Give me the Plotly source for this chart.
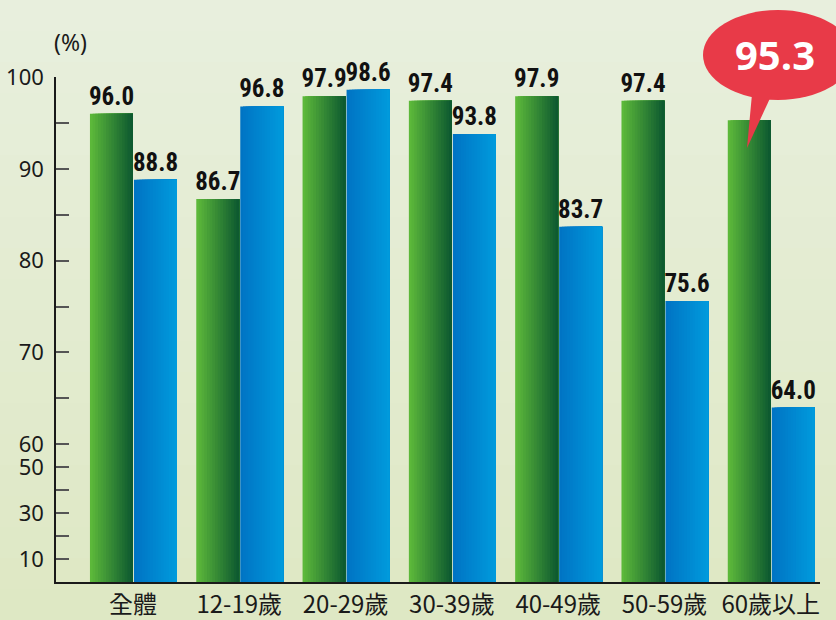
import plotly.graph_objects as go

# ---------------- data ----------------
categories = ["全體", "12-19歲", "20-29歲", "30-39歲", "40-49歲", "50-59歲", "60歲以上"]
green_values = [96.0, 86.7, 97.9, 97.4, 97.9, 97.4, 95.3]
blue_values = [88.8, 96.8, 98.6, 93.8, 83.7, 75.6, 64.0]
green_labels = ["96.0", "86.7", "97.9", "97.4", "97.9", "97.4", ""]
blue_labels = ["88.8", "96.8", "98.6", "93.8", "83.7", "75.6", "64.0"]
major_ticks = [10, 30, 50, 60, 70, 80, 90, 100]
minor_ticks = [20, 40, 65, 75, 85, 95]
callout_text = "95.3"


# broken axis: 0-60 compressed to a quarter, 60-100 at full scale
def to_axis(v):
    return v / 4.0 if v <= 60 else 15.0 + (v - 60.0)


green_y = [to_axis(v) for v in green_values]
blue_y = [to_axis(v) for v in blue_values]

# ---------------- style ----------------
BG = "#e3ebd2"
BG_TOP, BG_BOTTOM = (0xE8, 0xEF, 0xDD), (0xDE, 0xE8, 0xC4)
BAR_W = 0.4045
N_SLICES = 16
GREEN_L, GREEN_R = (0x5C, 0xB8, 0x3A), (0x0E, 0x5A, 0x30)
BLUE_L, BLUE_R = (0x00, 0x74, 0xC4), (0x00, 0x9A, 0xDC)
LABEL_FONT = dict(family="Noto Sans Condensed, Roboto Condensed, Liberation Sans Narrow, Liberation Sans, sans-serif",
                  size=25, color="#111", weight="bold")


def mix(a, b, f):
    return "rgb(%d,%d,%d)" % tuple(round(a[k] + (b[k] - a[k]) * f) for k in range(3))


fig = go.Figure()

series = [
    (green_y, green_values, green_labels, -BAR_W, GREEN_L, GREEN_R),
    (blue_y, blue_values, blue_labels, 0.0094, BLUE_L, BLUE_R),
]

for ys, vals, labels, off0, cl, cr in series:
    # horizontal gradient emulated by stacked slices (each drawn from its start to the bar's right edge)
    for i in range(N_SLICES):
        f = i / (N_SLICES - 1)
        step = BAR_W / N_SLICES
        fig.add_trace(go.Bar(
            x=categories, y=ys, offset=off0 + i * step, width=BAR_W - i * step,
            marker=dict(color=mix(cl, cr, f), line=dict(width=0)),
            hoverinfo="skip", showlegend=False,
        ))
    # labels
    fig.add_trace(go.Bar(
        x=categories, y=ys, offset=off0, width=BAR_W,
        marker=dict(color="rgba(0,0,0,0)", line=dict(width=0)),
        text=labels, textposition="outside", textfont=LABEL_FONT,
        constraintext="none", cliponaxis=False,
        customdata=vals, hovertemplate="%{x}: %{customdata}<extra></extra>",
        showlegend=False,
    ))

# plot area: x 56..820, y 77..582
PL, PR, PT, PB = 56, 820, 77, 582
PW, PH = PR - PL, PB - PT


def px(x):
    return (x - PL) / PW


def py(y):
    return (PB - y) / PH


# soft vertical background gradient (decoration)
shapes = []
N_BANDS = 20
for i in range(N_BANDS):
    y0 = 620 * i / N_BANDS
    y1 = 620 * (i + 1) / N_BANDS + 1
    shapes.append(dict(type="rect", xref="paper", yref="paper", layer="below",
                       x0=px(0), x1=px(836), y0=py(y1), y1=py(y0),
                       fillcolor=mix(BG_TOP, BG_BOTTOM, i / (N_BANDS - 1)), line=dict(width=0)))

RED = "#e83a48"
shapes += [
    dict(type="circle", xref="paper", yref="paper",
         x0=px(703), x1=px(853), y0=py(100), y1=py(10),
         fillcolor=RED, line=dict(width=0), layer="above"),
    dict(type="path", xref="paper", yref="paper",
         path="M %f,%f L %f,%f L %f,%f Z" % (px(752), py(94), px(772), py(94), px(747), py(148)),
         fillcolor=RED, line=dict(width=0), layer="above"),
]

annotations = [
    dict(text=callout_text, xref="paper", yref="paper", x=px(775), y=py(55),
         showarrow=False, font=dict(family="Open Sans, sans-serif", size=40, color="white", weight="bold"),
         xanchor="center", yanchor="middle"),
    dict(text="(%)", xref="paper", yref="paper", x=px(70), y=py(42),
         showarrow=False, font=dict(family="Noto Sans, sans-serif", size=23, color="#1a1a1a"),
         xanchor="center", yanchor="middle"),
]

fig.update_layout(
    width=836, height=620,
    margin=dict(l=PL, r=836 - PR, t=PT, b=620 - PB, autoexpand=False),
    paper_bgcolor=BG, plot_bgcolor="rgba(0,0,0,0)",
    barmode="overlay",
    shapes=shapes, annotations=annotations,
    showlegend=False,
)

fig.update_xaxes(
    type="category", range=[-0.724, 6.463], automargin=False,
    showline=True, linecolor="#1a1a1a", linewidth=1.5,
    ticks="", showgrid=False, zeroline=False,
    tickfont=dict(family="Noto Sans CJK TC, sans-serif", size=24, color="#1a1a1a"),
)

fig.update_yaxes(
    range=[0, 55], automargin=False,
    showline=True, linecolor="#1a1a1a", linewidth=1.5,
    showgrid=False, zeroline=False,
    tickvals=[to_axis(v) for v in major_ticks],
    ticktext=[str(v) for v in major_ticks],
    ticks="inside", ticklen=13, tickwidth=2, tickcolor="#555",
    minor=dict(tickvals=[to_axis(v) for v in minor_ticks], ticks="inside",
               ticklen=13, tickwidth=2, tickcolor="#555", showgrid=False),
    tickfont=dict(family="Noto Sans, sans-serif", size=22, color="#1a1a1a"),
    ticklabelstandoff=6,
)

fig.write_html("out.html", config={"displayModeBar": False},
               post_script="document.body.style.margin='0';")
